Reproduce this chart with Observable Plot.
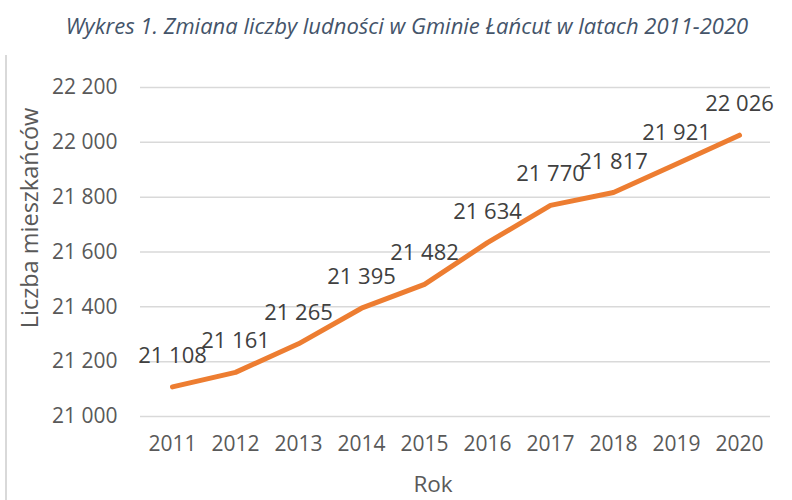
<!DOCTYPE html>
<html><head><meta charset="utf-8">
<script src="https://cdn.jsdelivr.net/npm/d3@7"></script>
<script src="https://cdn.jsdelivr.net/npm/@observablehq/plot@0.6"></script>
<style>
body{margin:0;background:#fff;font-family:"Open Sans",sans-serif;}
#wrap{position:relative;width:792px;height:500px;overflow:hidden;}
#title{position:absolute;left:407px;top:25px;transform:translate(-50%,-50%);white-space:nowrap;font-style:italic;font-size:22px;line-height:1.1;color:#44546A;}
#border{position:absolute;left:5px;top:55px;width:1.5px;height:445px;background:#d9d9d9;}
#ylab{position:absolute;left:30px;top:218px;transform:translate(-50%,-50%) rotate(-90deg);font-size:23.5px;line-height:1.1;color:#595959;white-space:nowrap;}
#xlab{position:absolute;left:433px;top:484px;transform:translate(-50%,-50%);font-size:22.5px;line-height:1;color:#595959;}
</style></head>
<body><div id="wrap"><div id="title">Wykres 1. Zmiana liczby ludności w Gminie Łańcut w latach 2011-2020</div><div id="border"></div><div id="ylab">Liczba mieszkańców</div><div id="xlab">Rok</div></div>
<script>
const years = [2011,2012,2013,2014,2015,2016,2017,2018,2019,2020];
const population = [21108,21161,21265,21395,21482,21634,21770,21817,21921,22026];
const yTicks = [21000,21200,21400,21600,21800,22000,22200];
const data = years.map((y,i)=>({year:y, value:population[i]}));
const fmt = d => d3.format(",")(d).replace(/,/g," ");
const chart = Plot.plot({
  width:792, height:500,
  marginLeft:140, marginRight:22, marginTop:87, marginBottom:84,
  style:{fontFamily:"Open Sans, sans-serif", fontSize:"21px", color:"#595959", background:"transparent"},
  x:{type:"point", domain:years, padding:0.5, label:null, tickSize:0, tickPadding:20, tickFormat:d=>String(d)},
  y:{domain:[21000,22200], ticks:yTicks, label:null, tickSize:0, tickPadding:23, tickFormat:fmt},
  marks:[
    Plot.gridY(yTicks,{stroke:"#d9d9d9", strokeOpacity:1, strokeWidth:1.5}),
    Plot.line(data,{x:"year", y:"value", stroke:"#ED7D31", strokeWidth:5, strokeLinecap:"round", strokeLinejoin:"round"}),
    Plot.text(data,{x:"year", y:"value", text:d=>fmt(d.value), dy:-31, fontSize:22, fill:"#404040"})
  ]
});
chart.style.position="absolute"; chart.style.left="0"; chart.style.top="0";
document.getElementById("wrap").prepend(chart);
</script></body></html>
